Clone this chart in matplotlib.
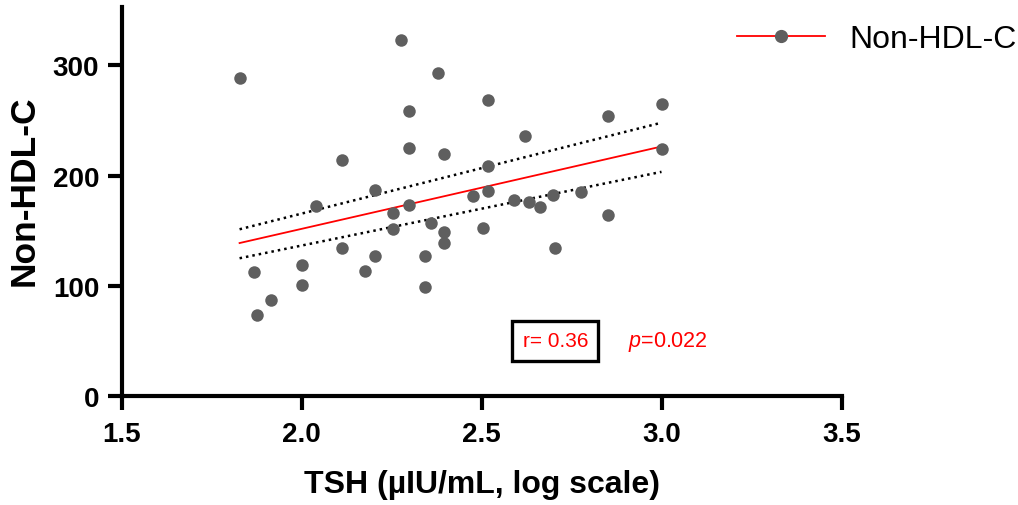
import matplotlib
matplotlib.use("Agg")
import matplotlib.pyplot as plt
from matplotlib.lines import Line2D

plt.rcParams['font.family'] = ['Liberation Sans', 'DejaVu Sans']
plt.rcParams['mathtext.fontset'] = 'custom'
plt.rcParams['mathtext.it'] = 'Liberation Sans:italic'
plt.rcParams['mathtext.rm'] = 'Liberation Sans'

# data
tsh = [1.828, 2.277, 2.379, 2.299, 2.299, 2.397, 2.113, 2.203, 2.040, 2.299,
       2.254, 2.360, 2.254, 2.397, 2.397, 2.113, 2.203, 2.342, 2.000, 1.869,
       2.175, 2.000, 2.342, 1.914, 1.875, 2.517, 2.850, 3.0, 2.622, 3.0,
       2.517, 2.517, 2.476, 2.590, 2.632, 2.662, 2.698, 2.777, 2.504, 2.850,
       2.703]
nonhdl = [288.5, 322.7, 293, 259, 225, 220, 214, 187.3, 172.2, 173,
          166.4, 157.3, 151.3, 148.5, 138.5, 134, 127, 127, 119, 112.2,
          113, 101, 99, 87, 73.4, 268.8, 254, 265, 236, 224.3,
          208.8, 186, 181.2, 178, 176, 171.2, 182.2, 185.2, 152.2, 164,
          134]

fit_x = [1.828, 3.0]
fit_y = [138.8, 226.4]
ci_upper = [151.3, 248.0]
ci_lower = [125.0, 203.4]

xticks = [1.5, 2.0, 2.5, 3.0, 3.5]
yticks = [0, 100, 200, 300]
r_text = "r= 0.36"
p_text = "$p$=0.022"

dot_col = '#5f5f5f'

fig = plt.figure(figsize=(10.18, 5.06), dpi=100)
ax = fig.add_axes([121.5/1018, 1-397/506, 720/1018, 389/506])

ax.plot(fit_x, ci_upper, color='black', ls=(0, (1, 1.6)), lw=1.8)
ax.plot(fit_x, ci_lower, color='black', ls=(0, (1, 1.6)), lw=1.8)
ax.plot(fit_x, fit_y, color='red', lw=1.3)
ax.plot(tsh, nonhdl, 'o', color=dot_col, ms=9, mew=0, clip_on=False)

ax.set_xlim(1.5, 3.5)
ax.set_ylim(0, 353)
ax.set_xticks(xticks)
ax.set_xticklabels([f"{t:.1f}" for t in xticks])
ax.set_yticks(yticks)

for s in ['top', 'right']:
    ax.spines[s].set_visible(False)
for s in ['left', 'bottom']:
    ax.spines[s].set_linewidth(3)
ax.tick_params(width=3, length=10, labelsize=20)
ax.tick_params(axis='x', pad=8)
ax.tick_params(axis='y', pad=6)
for lab in ax.get_xticklabels() + ax.get_yticklabels():
    lab.set_fontweight('bold')

ax.set_xlabel("TSH (µIU/mL, log scale)", fontsize=23, fontweight='bold', labelpad=16)
ax.set_ylabel("Non-HDL-C", fontsize=25.5, fontweight='bold')
ax.yaxis.set_label_coords(-0.113, 0.53)

ax.text(2.705, 50, r_text, color='red', fontsize=15, ha='center', va='center',
        bbox=dict(boxstyle='square,pad=0.5', fc='white', ec='black', lw=2.4))
ax.text(3.018, 50, p_text, color='red', fontsize=15.5, ha='center', va='center')

handle = Line2D([], [], color='red', lw=1.3, marker='o', ms=8.5,
                markerfacecolor=dot_col, markeredgecolor=dot_col)
fig.legend([handle], ["Non-HDL-C"], loc='center left',
           bbox_to_anchor=(737/1018, 1-40/506), frameon=False, fontsize=23,
           handlelength=2.75, handletextpad=0.78, borderpad=0, borderaxespad=0)

fig.savefig("out.png", dpi=100)
